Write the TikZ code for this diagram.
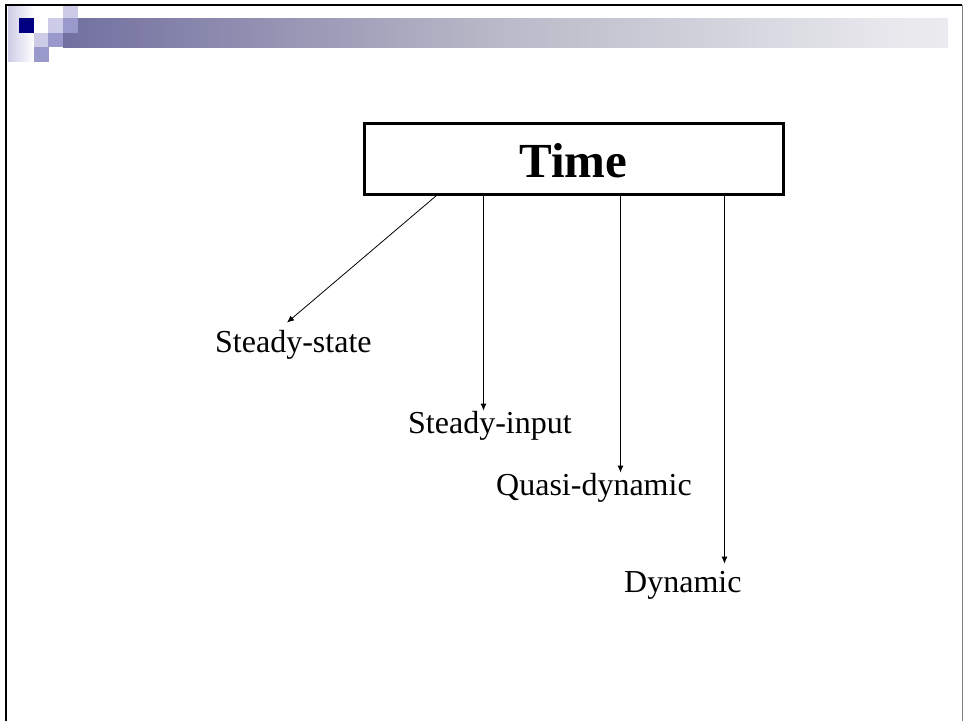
\documentclass[tikz,border=0pt]{standalone}
\usepackage{fontspec}
\setmainfont{Liberation Serif}
\usetikzlibrary{arrows.meta}
\definecolor{navy}{HTML}{000080}
\definecolor{lightlav}{HTML}{CCCCE6}
\definecolor{medlav}{HTML}{9999CC}
\pgfdeclarehorizontalshading{barshade}{100bp}{rgb(0bp)=(0.11,0.11,0.47); rgb(21bp)=(0.40,0.39,0.60); rgb(49bp)=(0.72,0.72,0.78); rgb(72bp)=(0.91,0.91,0.93); rgb(100bp)=(1,1,1)}
\tikzset{
  lbl/.style={inner sep=0pt, anchor=base west, font=\fontsize{32}{38}\selectfont},
  arr/.style={draw=black, line width=0.8pt, -{Latex[length=7pt,width=6pt]}}
}
\begin{document}
\begin{tikzpicture}[x=1pt,y=-1pt]
\useasboundingbox (0,0) rectangle (963,721);
\fill[white] (0,0) rectangle (963,721);
% header decoration
\fill[shading=barshade] (63,18) rectangle (948,47);
\fill[left color=lightlav, right color=white] (8,6) rectangle (34,61);
\fill[navy] (19,18) rectangle (34,33);
\fill[lightlav] (48,18) rectangle (63,33);
\fill[lightlav] (63,6) rectangle (78,18);
\fill[medlav] (63,18) rectangle (78,33);
\fill[lightlav] (34,33) rectangle (48,47);
\fill[medlav] (48,33) rectangle (63,47);
\fill[medlav] (34,47) rectangle (49,62);
% frame
\draw[line width=2.5pt] (6,721) -- (6,5) -- (962,5);
\draw[gray, line width=1pt] (962,5) -- (962,721);
% main box
\node[draw, line width=3pt, minimum width=419pt, minimum height=71pt, inner sep=0pt,
      font=\bfseries\fontsize{49}{56}\selectfont, text height=37pt, text depth=0pt] (time) at (573.5,158.5) {Time};
% labels
\node[lbl] (ss) at (215,352) {Steady-state};
\node[lbl] (si) at (408,433) {Steady-input};
\node[lbl] (qd) at (496,495) {Quasi-dynamic};
\node[lbl] (dy) at (624,592) {Dynamic};
% connector start points
\path ([xshift=74pt]time.south west) coordinate (s1);
\path ([xshift=121pt]time.south west) coordinate (s2);
\path ([xshift=258pt]time.south west) coordinate (s3);
\path ([xshift=362pt]time.south west) coordinate (s4);
\path ([xshift=72pt,yshift=7pt]ss.north west) coordinate (e1);
\path ([yshift=7pt]dy.north) coordinate (e4);
% connectors
\draw[arr] (s1) -- (e1);
\draw[arr] (s2) -- (s2 |- si.north);
\draw[arr] (s3) -- (s3 |- qd.north);
\draw[arr] (s4) -- (s4 |- e4);
\end{tikzpicture}
\end{document}
